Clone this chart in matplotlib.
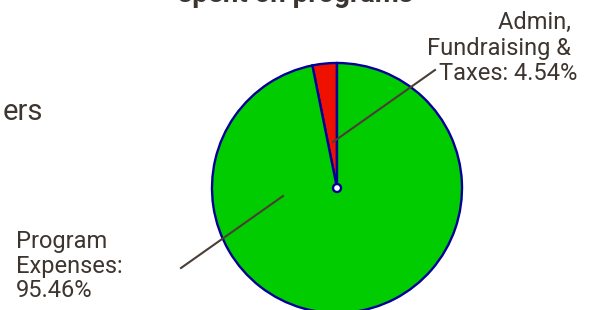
import numpy as np
import matplotlib.pyplot as plt

# values
labels = ['Admin, \nFundraising & \nTaxes: 4.54%', 'Program\nExpenses:\n95.46%']
# the wedge as drawn in the picture is narrower than its label says
drawn_shares = [3.16, 96.84]
colors = ['#ee1100', '#00cc00']
title = 'spent on programs'
side_text = 'ers'

txt = '#3d3530'
plt.rcParams['font.family'] = ['Roboto', 'DejaVu Sans']

fig = plt.figure(figsize=(5.93, 3.10), dpi=100)
ax = fig.add_axes([0, 0, 1, 1])

cx, cy, r = 337, 122, 125
ax.pie(drawn_shares, colors=colors, startangle=90, counterclock=True,
       center=(cx, cy), radius=r,
       wedgeprops=dict(edgecolor='#000099', linewidth=1.7))
ax.set_xlim(0, 593)
ax.set_ylim(0, 310)
ax.set_aspect('equal')
ax.axis('off')
ax.add_patch(plt.Circle((cx, cy), 4, facecolor='white', edgecolor='#000099',
                        linewidth=1.7, zorder=5))

# leader lines
ax.plot([435, 333], [240, 168], color='#4a3f38', lw=1.5)
ax.plot([181, 283], [42, 114], color='#4a3f38', lw=1.5)

ax.text(577, 262, labels[0], ha='right', va='center', fontsize=17,
        color=txt, linespacing=1.12, multialignment='right')
ax.text(16, 44, labels[1], ha='left', va='center', fontsize=17,
        color=txt, linespacing=1.1)

ax.text(296, 307.5, title, ha='center', va='baseline', fontsize=20,
        fontweight='bold', color=txt)
ax.text(43, 198, side_text, ha='right', va='center', fontsize=21, color=txt)

fig.savefig('out.png', dpi=100)
